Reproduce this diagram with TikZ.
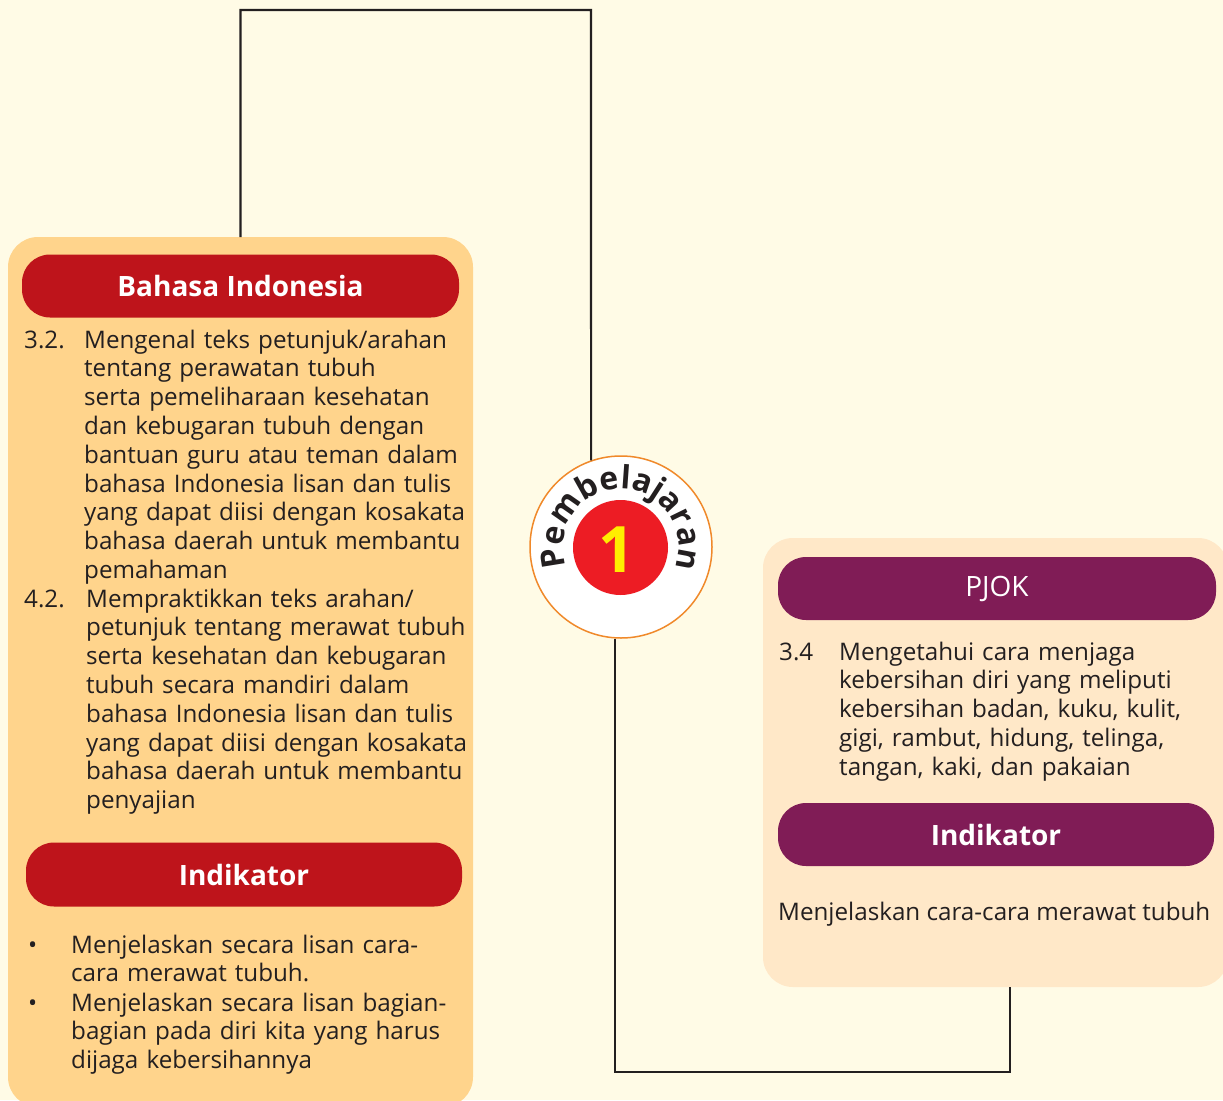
\documentclass[tikz,border=0pt]{standalone}
\usepackage{fontspec}
\setmainfont{Open Sans}
\usetikzlibrary{decorations.text}
\definecolor{paper}{HTML}{FFFBE6}
\definecolor{ink}{HTML}{231F20}
\definecolor{bipanel}{HTML}{FFD48C}
\definecolor{bired}{HTML}{BE141B}
\definecolor{pjpanel}{HTML}{FFE8C8}
\definecolor{pjpurple}{HTML}{801C56}
\definecolor{ring}{HTML}{F0892A}
\definecolor{dotred}{HTML}{ED1C24}
\definecolor{numyellow}{HTML}{FFED00}
\newcommand\bodyfont{\fontsize{24.2}{28.8}\selectfont}
\newcommand\headfont{\fontsize{28}{30}\selectfont\bfseries}
\newcommand\arcfont{\fontsize{32}{32}\selectfont\bfseries}
\begin{document}
\begin{tikzpicture}[x=1pt,y=1pt,
  panel/.style={rounded corners=30pt,inner sep=0,outer sep=0,anchor=north west},
  bar/.style={rounded corners=28pt,inner sep=0,outer sep=0,text=white,font=\headfont},
  body/.style={font=\bodyfont,text=ink,inner sep=0,anchor=base west,align=left},
  link/.style={draw=ink,line width=2.2pt}]
  \fill[paper] (0,0) rectangle (1223,-1100);
  \useasboundingbox (0,0) rectangle (1223,-1100);
  % panels
  \node[panel,fill=bipanel,minimum width=465,minimum height=870] (lbox) at (8,-237) {};
  \node[panel,fill=pjpanel,minimum width=465,minimum height=449] (rbox) at (763,-538) {};
  % Bahasa Indonesia
  \node[bar,fill=bired,minimum width=437,minimum height=63] (bihead) at (240.5,-286) {Bahasa Indonesia};
  \node[body] (n32) at (24,-348) {3.2.};
  \node[body,text width=390] (t32) at (84,-348) {Mengenal teks petunjuk/arahan\\
    tentang perawatan tubuh\\serta pemeliharaan kesehatan\\dan kebugaran tubuh dengan\\
    bantuan guru atau teman dalam\\bahasa Indonesia lisan dan tulis\\
    yang dapat diisi dengan kosakata\\bahasa daerah untuk membantu\\pemahaman};
  \node[body] (n42) at (24,-607) {4.2.};
  \node[body,text width=390] (t42) at (86,-607) {Mempraktikkan teks arahan/\\
    petunjuk tentang merawat tubuh\\serta kesehatan dan kebugaran\\tubuh secara mandiri dalam\\
    bahasa Indonesia lisan dan tulis\\yang dapat diisi dengan kosakata\\
    bahasa daerah untuk membantu\\penyajian};
  \node[bar,fill=bired,minimum width=436,minimum height=64] (bind) at (244,-874.5) {Indikator};
  \node[body] (b1) at (28,-953) {•};
  \node[body,text width=400] (tb1) at (71,-953) {Menjelaskan secara lisan cara-\\cara merawat tubuh.};
  \node[body] (b2) at (28,-1011) {•};
  \node[body,text width=400] (tb2) at (71,-1011) {Menjelaskan secara lisan bagian-\\
    bagian pada diri kita yang harus\\dijaga kebersihannya};
  % PJOK
  \node[bar,fill=pjpurple,minimum width=438,minimum height=63,font=\fontsize{28}{30}\selectfont] (pjhead) at (997,-588.5) {PJOK};
  \node[body] (n34) at (779,-660) {3.4};
  \node[body,text width=380] (t34) at (839,-660) {Mengetahui cara menjaga\\
    kebersihan diri yang meliputi\\kebersihan badan, kuku, kulit,\\
    gigi, rambut, hidung, telinga,\\tangan, kaki, dan pakaian};
  \node[bar,fill=pjpurple,minimum width=436,minimum height=63] (pjind) at (996,-834.5) {Indikator};
  \node[body] (tpj) at (778,-920) {Menjelaskan cara-cara merawat tubuh};
  % badge
  \node[circle,minimum size=182,draw=ring,line width=1.5pt,fill=white] (badge) at (621,-547) {};
  \node[circle,minimum size=95,inner sep=0,fill=dotred] (dot) at (620.5,-547.5) {};
  \node[text=numyellow,font=\fontsize{64}{64}\selectfont\bfseries] (num) at (617,-550) {1};
  \path[decorate,decoration={text along path,text align=fit to path,text color=ink,
    text={|\arcfont|Pembelajaran}}]
    ([shift={(199:58)}]badge.center) arc[start angle=199,end angle=-17,radius=58];
  % connectors
  \coordinate (topright) at (591,-10);
  \coordinate (botright) at (1010,-1072);
  \draw[link] (lbox.north) |- (topright) -- (badge.109);
  \draw[link] (badge.266) |- (botright) -- (botright |- rbox.south);
\end{tikzpicture}
\end{document}
